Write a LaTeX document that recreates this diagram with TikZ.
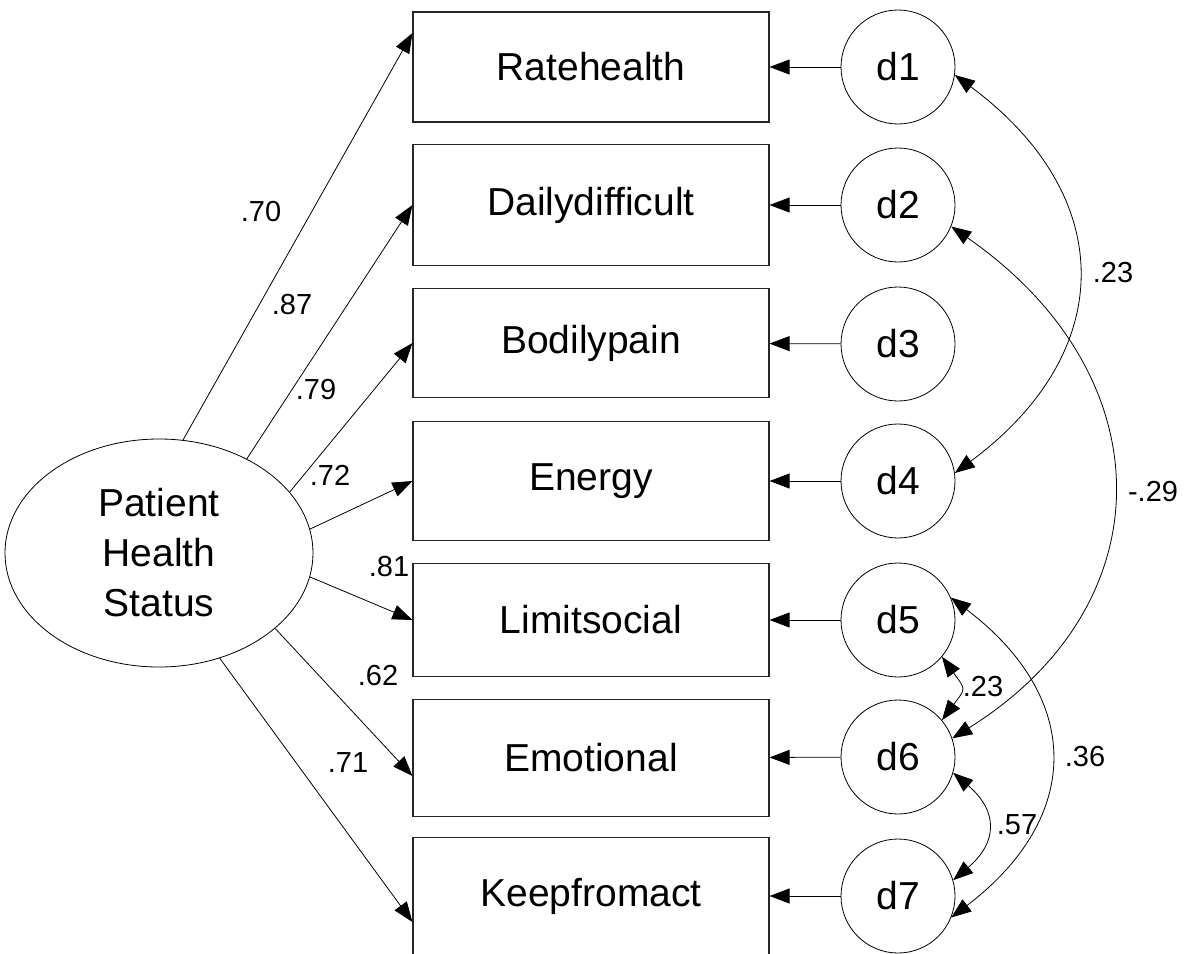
\documentclass[tikz,border=0pt]{standalone}
\usepackage{fontspec}
\setmainfont{Liberation Sans}[Ligatures=NoCommon]
\usetikzlibrary{arrows.meta,calc,shapes.geometric}

\begin{document}
\begin{tikzpicture}[x=1pt,y=1pt,
  obs/.style={draw=black!85, line width=1.1pt, minimum width=356pt, inner sep=0pt,
              font=\fontsize{39}{47}\selectfont},
  err/.style={draw, circle, line width=0.8pt, minimum size=114pt, inner sep=0pt,
              font=\fontsize{39}{47}\selectfont},
  latent/.style={draw, ellipse, line width=0.8pt, minimum width=308pt, minimum height=228pt,
              inner sep=0pt, align=center, font=\fontsize{39}{50}\selectfont},
  tipa/.tip={Triangle[length=20pt,width=15pt]},
  link/.style={line width=0.8pt, -tipa},
  cov/.style={line width=0.8pt, tipa-tipa},
  coef/.style={font=\fontsize{29}{35}\selectfont, inner sep=0pt}
]
\useasboundingbox (0,0) rectangle (1185,-953);

% observed indicators
\node[obs, minimum height=110pt] (r1) at (591,-67)  {Ratehealth};
\node[obs, minimum height=121pt] (r2) at (591,-205) {Dailydifficult};
\node[obs, minimum height=109pt] (r3) at (591,-343) {Bodilypain};
\node[obs, minimum height=119pt] (r4) at (591,-481) {Energy};
\node[obs, minimum height=113pt] (r5) at (591,-620) {Limitsocial};
\node[obs, minimum height=117pt] (r6) at (591,-758) {Emotional};
\node[obs, minimum height=117pt] (r7) at (591,-896) {Keepfromact};

% error terms
\node[err] (d1) at (898,-67)  {d1};
\node[err] (d2) at (898,-205) {d2};
\node[err] (d3) at (898,-344) {d3};
\node[err] (d4) at (898,-481) {d4};
\node[err] (d5) at (898,-620) {d5};
\node[err] (d6) at (898,-757) {d6};
\node[err] (d7) at (898,-896) {d7};

% latent factor
\node[latent] (phs) at (159,-553) {Patient\\Health\\Status};

% factor loadings
\draw[link] (phs.78)   -- ($(r1.west)+(0,34)$);
\draw[link] (phs.47.8) -- (r2.west);
\draw[link] (phs.25)   -- (r3.west);
\draw[link] (phs.9.4)  -- (r4.west);
\draw[link] (phs.-9.4) -- (r5.west);
\draw[link] (phs.-33)  -- ($(r6.west)+(0,-18)$);
\draw[link] (phs.-60)  -- ($(r7.west)+(0,-26)$);

\node[coef] (l1) at (261,-212) {.70};
\node[coef] (l2) at (292,-305) {.87};
\node[coef] (l3) at (316,-390) {.79};
\node[coef] (l4) at (330,-475) {.72};
\node[coef] (l5) at (389,-567) {.81};
\node[coef] (l6) at (378,-676) {.62};
\node[coef] (l7) at (348,-763) {.71};

% residual paths
\foreach \i in {1,...,7} \draw[link] (d\i) -- (r\i);

% error covariances
\draw[cov] (d1.-8)  .. controls (1118,-196) and (1118,-352) .. (d4.8);
\draw[cov] (d2.-22) .. controls (1165,-375) and (1167,-604) .. (d6.19);
\draw[cov] (d5.23)  .. controls (1083,-698) and (1083,-817) .. (d7.-22);
\draw[cov] (d5.-40) .. controls (966,-690) and (966,-688) .. (d6.40);
\draw[cov] (d6.-16) .. controls (998,-811) and (998,-842) .. (d7.16);

\node[coef] (c14) at (1113,-273) {.23};
\node[coef] (c26) at (1153,-492) {-.29};
\node[coef] (c57) at (1085,-757) {.36};
\node[coef] (c56) at (983,-687)  {.23};
\node[coef] (c67) at (1017,-825) {.57};
\end{tikzpicture}
\end{document}
